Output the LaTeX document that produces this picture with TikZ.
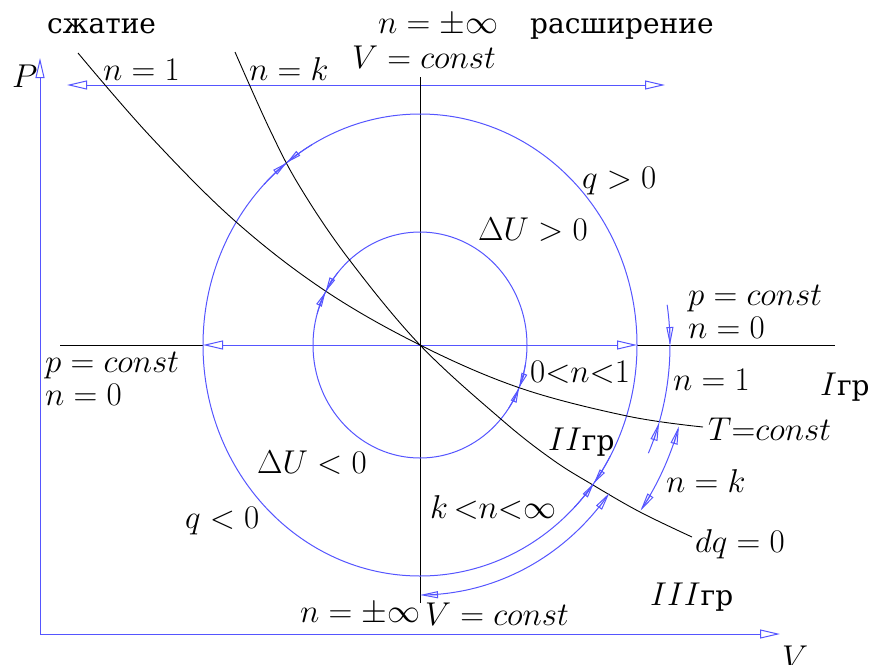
\RequirePackage{fix-cm}
\documentclass[tikz,border=0pt]{standalone}
\usepackage{fontspec}
\setmainfont{DejaVu Serif}
\usetikzlibrary{arrows.meta}
\definecolor{lblue}{RGB}{85,85,255}
\newcommand\myEarc[5][]{\draw[#1] plot[domain=#4:#5, samples=40, variable=\t] ({420+#2*cos(\t)},{345-#3*sin(\t)});}
\begin{document}
\begin{tikzpicture}[x=1pt,y=-1pt,
  axis/.style={lblue, line width=1pt},
  curve/.style={black, line width=0.9pt},
  bigT/.tip={Triangle[open,length=20pt,width=9pt]},
  medT/.tip={Triangle[open,length=18pt,width=7pt]},
  smT/.tip={Triangle[open,length=15pt,width=6pt]},
  lbl/.style={inner sep=0pt, anchor=base west, font=\fontsize{33}{40}\selectfont},
  txt/.style={inner sep=0pt, anchor=base west, font=\fontsize{28}{34}\selectfont}]
\useasboundingbox (0,0) rectangle (869,664);
% coordinates
\coordinate (O) at (420,345);
\coordinate (Og) at (40,634);
\coordinate (Ptop) at (40,58);
\coordinate (Vend) at (780,634);
\coordinate (TL) at (67,85);
\coordinate (TR) at (665,85);
\coordinate (HL0) at (60,345);
\coordinate (HL) at (203,345);
\coordinate (HR) at (637,345);
\coordinate (HR0) at (835,345);
\coordinate (VT) at (420,77);
\coordinate (VB) at (420,603);
% axes
\draw[axis,-bigT] (Og) -- (Ptop);
\draw[axis,-bigT] (Og) -- (Vend);
\draw[axis,bigT-bigT] (TL) -- (TR);
% horizontal through centre
\draw[curve] (HL0) -- (HL);
\draw[axis,bigT-bigT] (HL) -- (HR);
\draw[curve] (HR) -- (HR0);
% vertical through centre
\draw[curve] (VT) -- (VB);
% circles
\draw[axis] (O) ellipse [x radius=217pt, y radius=231pt];
\draw[axis] (O) ellipse [x radius=107pt, y radius=113pt];
% isotherm n=1
\draw[curve] plot[smooth, tension=0.6] coordinates {(78,53) (150,136) (235,221) (324,290) (420,345) (520,388) (627,416) (703,427)};
% adiabat n=k
\draw[curve] plot[smooth, tension=0.6] coordinates {(235,52) (270,130) (300,187) (348,258) (420,345) (502,420) (553,460) (593,485) (640,512) (692,537)};
% arrow pairs on circles
\myEarc[axis,-smT]{217}{231}{136}{127.9}
\myEarc[axis,-smT]{217}{231}{119.8}{127.9}
\myEarc[axis,-smT]{217}{231}{-28.8}{-36.8}
\myEarc[axis,-smT]{217}{231}{-44.8}{-36.8}
\myEarc[axis,-smT]{107}{113}{140}{152}
\myEarc[axis,-smT]{107}{113}{164}{152}
\myEarc[axis,-smT]{107}{113}{-10}{-22.2}
\myEarc[axis,-smT]{107}{113}{-34}{-22.2}
% right arcs
\myEarc[axis,-medT]{250}{266}{8.7}{0}
\myEarc[axis]{250}{266}{0}{-17}
\myEarc[axis,-medT]{250}{266}{-24}{-17}
\myEarc[axis,medT-medT]{270}{287}{-16.5}{-35.2}
\myEarc[axis,medT-medT]{235}{250}{-90}{-36.3}
% labels
\node[txt] (szh) at (47,33) {сжатие};
\node[lbl] (ninf1) at (378,33) {$n=\pm\infty$};
\node[txt] (rassh) at (530,33) {расширение};
\node[lbl] (P) at (12,87) {$P$};
\node[lbl] (n1t) at (103,80) {$n=1$};
\node[lbl] (nkt) at (249,80) {$n=k$};
\node[lbl] (Vc1) at (352,68) {$V=const$};
\node[lbl] (qp) at (582,188) {$q>0$};
\node[lbl] (dUp) at (478,240) {$\Delta U>0$};
\node[lbl] (pcR) at (688,305) {$p=const$};
\node[lbl] (n0R) at (688,338) {$n=0$};
\node[lbl] (pcL) at (45,372) {$p=const$};
\node[lbl] (n0L) at (45,405) {$n=0$};
\node[lbl] (n01) at (530,382) {$0{<}n{<}1$};
\node[lbl] (n1R) at (673,390) {$n=1$};
\node[lbl] (Igr) at (820,395) {$I$\fontsize{28}{34}\selectfont гр};
\node[lbl] (IIgr) at (548,450) {$II$\fontsize{28}{34}\selectfont гр};
\node[lbl] (Tc) at (708,440) {$T{=}const$};
\node[lbl] (dUm) at (257,473) {$\Delta U<0$};
\node[lbl] (nkR) at (666,492) {$n=k$};
\node[lbl] (kni) at (430,518) {$k\,{<}n{<}\infty$};
\node[lbl] (qm) at (185,528) {$q<0$};
\node[lbl] (dq) at (695,552) {$dq=0$};
\node[lbl] (IIIgr) at (650,605) {$III$\fontsize{28}{34}\selectfont гр};
\node[lbl] (ninf2) at (300,622) {$n=\pm\infty$};
\node[lbl] (Vc2) at (425,625) {$V=const$};
\node[lbl] (Vax) at (782,668) {$V$};
\end{tikzpicture}
\end{document}
